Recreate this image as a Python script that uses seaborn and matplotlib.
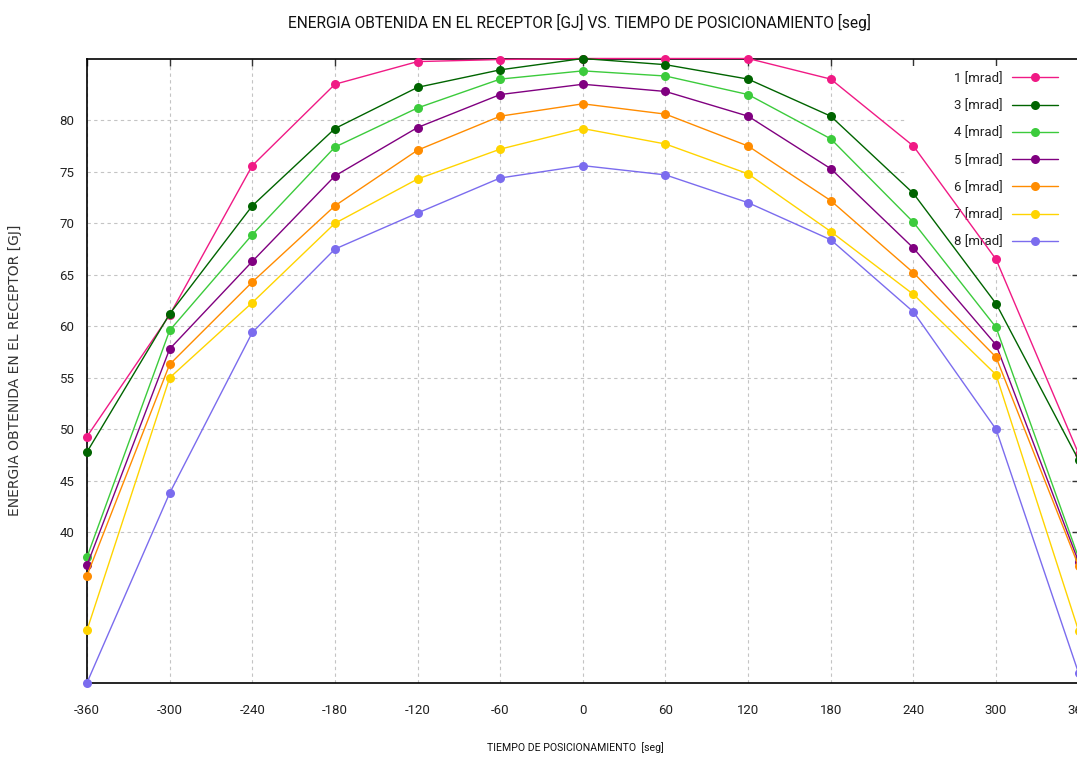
import matplotlib
matplotlib.use("Agg")
import matplotlib.pyplot as plt
from matplotlib import font_manager
from matplotlib.lines import Line2D
from matplotlib.patches import Rectangle
import pandas as pd
import seaborn as sns

# Positioning time [s]
tiempo = [-360, -300, -240, -180, -120, -60, 0, 60, 120, 180, 240, 300, 360]

# Energy collected at the receiver [GJ] for each tracking error
e_1mrad = [49.3, 61.1, 75.6, 83.5, 85.7, 85.9, 86.0, 86.0, 86.0, 84.0, 77.5, 66.5, 47.6]
e_3mrad = [47.8, 61.2, 71.7, 79.2, 83.2, 84.9, 86.0, 85.4, 84.0, 80.4, 72.9, 62.2, 47.0]
e_4mrad = [37.6, 59.6, 68.9, 77.4, 81.2, 84.0, 84.8, 84.3, 82.5, 78.2, 70.1, 59.9, 37.5]
e_5mrad = [36.8, 57.8, 66.3, 74.6, 79.3, 82.5, 83.5, 82.8, 80.4, 75.3, 67.6, 58.2, 37.1]
e_6mrad = [35.8, 56.3, 64.3, 71.7, 77.1, 80.4, 81.6, 80.6, 77.5, 72.2, 65.2, 57.0, 36.7]
e_7mrad = [30.5, 55.0, 62.3, 70.0, 74.3, 77.2, 79.2, 77.7, 74.8, 69.2, 63.1, 55.3, 30.4]
e_8mrad = [25.4, 43.8, 59.4, 67.5, 71.0, 74.4, 75.6, 74.7, 72.0, 68.4, 61.4, 50.0, 26.3]

series = ["1 [mrad]", "3 [mrad]", "4 [mrad]", "5 [mrad]", "6 [mrad]", "7 [mrad]", "8 [mrad]"]
valores = [e_1mrad, e_3mrad, e_4mrad, e_5mrad, e_6mrad, e_7mrad, e_8mrad]
colores = ["#f01a85", "#006400", "#3ccb3c", "#800080", "#ff8c00", "#ffd400", "#7b6cee"]

y_ticks = [40, 45, 50, 55, 60, 65, 70, 75, 80]

titulo = "ENERGIA OBTENIDA EN EL RECEPTOR [GJ] VS. TIEMPO DE POSICIONAMIENTO [seg]"
etiqueta_x = "TIEMPO DE POSICIONAMIENTO  [seg]"
etiqueta_y = "ENERGIA OBTENIDA EN EL RECEPTOR [GJ]"

df = pd.DataFrame(
    [(t, v, s) for s, vals in zip(series, valores) for t, v in zip(tiempo, vals)],
    columns=["tiempo", "energia", "serie"],
)

sns.set_theme(style="white")
plt.rcParams["font.family"] = ["DejaVu Sans"]
plt.rcParams["axes.unicode_minus"] = False

narrow = "Roboto"

W, H = 1077, 757
fig = plt.figure(figsize=(W / 100, H / 100), dpi=100)
x0, x1, y_top, y_bot = 87, 1078.7, 58.5, 682.7
ax = fig.add_axes([x0 / W, (H - y_bot) / H, (x1 - x0) / W, (y_bot - y_top) / H])

sns.lineplot(
    data=df, x="tiempo", y="energia", hue="serie", hue_order=series,
    palette=dict(zip(series, colores)), marker="o", markersize=6.5,
    markeredgewidth=0, linewidth=1.0, legend=False, errorbar=None,
    ax=ax, zorder=3, clip_on=False,
)

ax.set_xlim(min(tiempo), max(tiempo))
ax.set_ylim(min(min(v) for v in valores), max(max(v) for v in valores))
ax.set_xticks(tiempo)
ax.set_yticks(y_ticks)
ax.set_xlabel("")
ax.set_ylabel("")

ax.set_axisbelow(True)
ax.grid(True, color="#c4c4c4", linestyle=(0, (3, 3)), linewidth=0.8)
for sp in ax.spines.values():
    sp.set_visible(True)
    sp.set_color("black")
    sp.set_linewidth(1.2)
ax.tick_params(axis="both", direction="in", length=5, width=1, color="#333333",
               top=True, right=True, labelsize=10, labelcolor="#222222")
ax.tick_params(axis="x", pad=15)
ax.tick_params(axis="y", pad=9)
for lab in ax.get_xticklabels() + ax.get_yticklabels():
    lab.set_fontproperties(font_manager.FontProperties(family=narrow, size=9.5))

# blank area behind the key
ax.add_patch(Rectangle((905 / W, 1 - 258 / H), (W - 905) / W + 0.01, (258 - 66) / H,
                       transform=fig.transFigure, facecolor="white",
                       edgecolor="none", zorder=1))

handles = [Line2D([0], [0], color=c, marker="o", markersize=6.5, markeredgewidth=0,
                  linewidth=1.0) for c in colores]
leg = ax.legend(handles, series, markerfirst=False, loc="upper right",
                bbox_to_anchor=(1062 / W, 1 - 68 / H), bbox_transform=fig.transFigure,
                frameon=False, handlelength=3.5, labelspacing=1.08, borderaxespad=0,
                borderpad=0.3, handletextpad=0.7,
                prop=font_manager.FontProperties(family=narrow, size=9.5))
for t in leg.get_texts():
    t.set_color("#222222")
leg.set_zorder(2)

fig.text(580 / W, 1 - 22 / H, titulo, ha="center", va="center", fontsize=11.2,
         color="#111111", family=narrow)
fig.text(575 / W, 1 - 748 / H, etiqueta_x, ha="center", va="center", fontsize=7.6,
         color="#111111", family=narrow)
fig.text(15 / W, 1 - 370 / H, etiqueta_y, ha="center", va="center", rotation=90,
         fontsize=10, color="#333333")

fig.savefig("out.png", dpi=100)
